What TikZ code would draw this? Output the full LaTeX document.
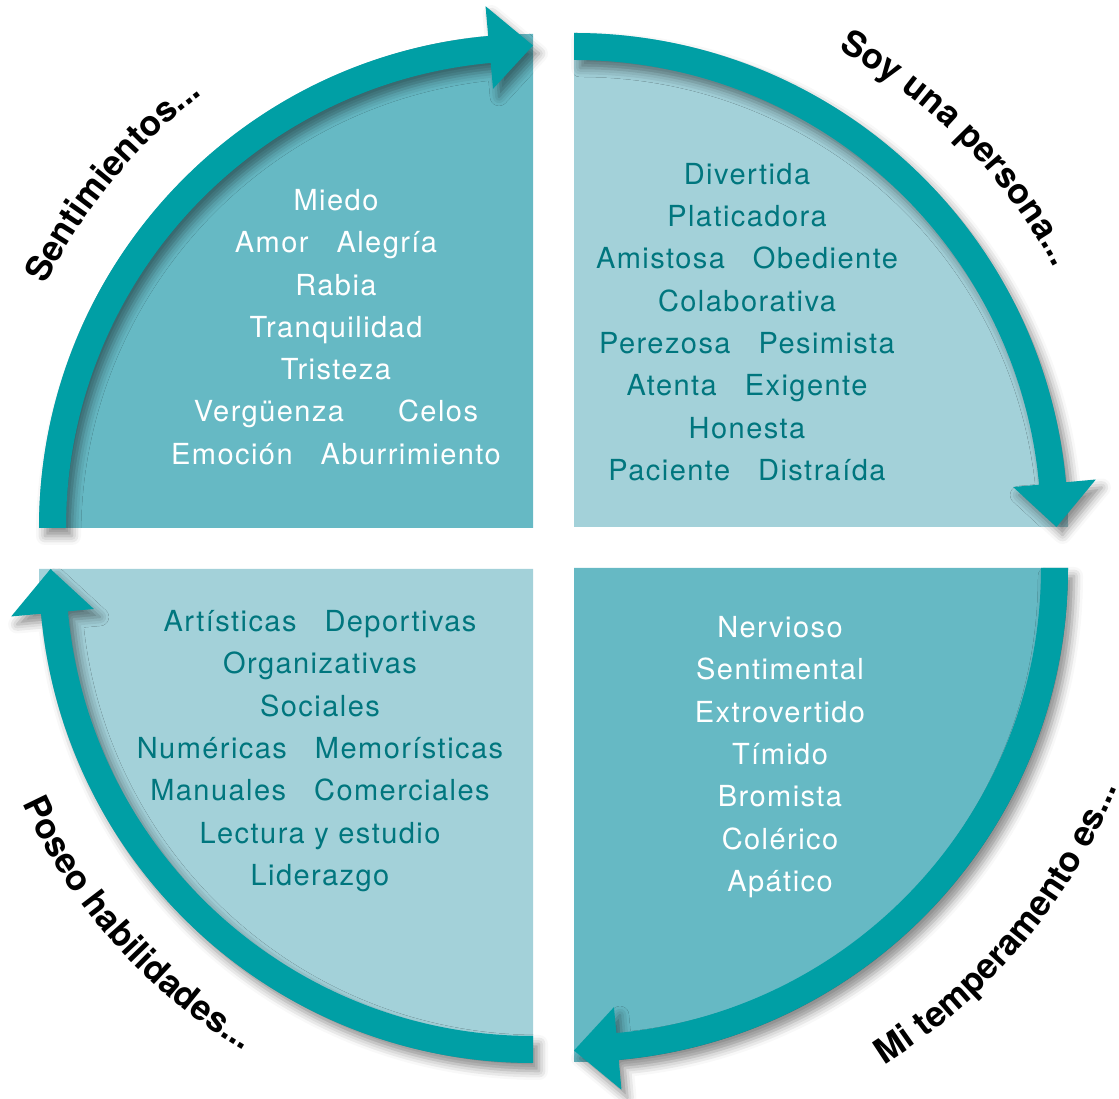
\documentclass[tikz,border=0pt]{standalone}
\usepackage{fontspec}
\setmainfont{TeX Gyre Heros}
\newfontfamily\listfamily[LetterSpace=5]{TeX Gyre Heros}
\usetikzlibrary{decorations.text, shadows.blur}
\definecolor{ringteal}{RGB}{0,159,165}
\definecolor{quaddark}{RGB}{102,185,196}
\definecolor{quadlight}{RGB}{163,209,217}
\definecolor{wordteal}{RGB}{0,118,126}
\tikzstyle{ringarrow} = [fill=ringteal, blur shadow={shadow xshift=6pt,
    shadow yshift=-8pt, shadow blur radius=9pt, shadow opacity=45}]
\tikzstyle{darkquad} = [fill=quaddark]
\tikzstyle{lightquad} = [fill=quadlight]
\tikzstyle{wordlist} = [align=center, inner sep=0pt,
    font=\listfamily\fontsize{29}{42.3}\selectfont]
\tikzstyle{wordsw} = [wordlist, text=white]
\tikzstyle{wordst} = [wordlist, text=wordteal]
\tikzstyle{ringlabel} = [decorate, decoration={text along path, text align=left}]
\newcommand{\labelfont}{\fontsize{35}{40}\selectfont\bfseries}
\newcommand{\wgap}{\hspace{28pt}}

\begin{document}
\begin{tikzpicture}[x=1pt, y=1pt]
            \useasboundingbox (0,0) rectangle (1119,1099);
            % Quadrants
            \fill[darkquad] (533,571) -- (39,571) arc[start angle=180, end angle=90, radius=494] -- cycle;
            \fill[lightquad] (574,572) -- (574,1066) arc[start angle=90, end angle=0, radius=494] -- cycle;
            \fill[darkquad] (574,531) -- (1068,531) arc[start angle=0, end angle=-90, radius=494] -- cycle;
            \fill[lightquad] (533,530) -- (533,36) arc[start angle=-90, end angle=-180, radius=494] -- cycle;
            % Ring arrows
            \fill[ringarrow] (39,571) arc[start angle=180, end angle=95.2, radius=494]
                -- ([shift={(533,571)}]95.2:524) -- ([shift={(533,571)}]90:482.5) -- ([shift={(533,571)}]95.2:441)
                -- ([shift={(533,571)}]95.2:467) arc[start angle=95.2, end angle=180, radius=467] -- cycle;
            \fill[ringarrow] (574,1066) arc[start angle=90, end angle=5.2, radius=494]
                -- ([shift={(574,572)}]5.2:524) -- ([shift={(574,572)}]0:482.5) -- ([shift={(574,572)}]5.2:441)
                -- ([shift={(574,572)}]5.2:467) arc[start angle=5.2, end angle=90, radius=467] -- cycle;
            \fill[ringarrow] (1068,531) arc[start angle=0, end angle=-84.8, radius=494]
                -- ([shift={(574,531)}]-84.8:524) -- ([shift={(574,531)}]-90:482.5) -- ([shift={(574,531)}]-84.8:441)
                -- ([shift={(574,531)}]-84.8:467) arc[start angle=-84.8, end angle=0, radius=467] -- cycle;
            \fill[ringarrow] (533,36) arc[start angle=-90, end angle=-174.8, radius=494]
                -- ([shift={(533,530)}]-174.8:524) -- ([shift={(533,530)}]-180:482.5) -- ([shift={(533,530)}]-174.8:441)
                -- ([shift={(533,530)}]-174.8:467) arc[start angle=-174.8, end angle=-90, radius=467] -- cycle;
            % Word lists
            \node[wordsw] (sentimientos) at (336,772) {Miedo\\Amor\wgap Alegría\\Rabia\\Tranquilidad\\Tristeza\\Vergüenza\hspace{54pt}Celos\\Emoción\wgap Aburrimiento};
            \node[wordst] (persona) at (747,777) {Divertida\\Platicadora\\Amistosa\wgap Obediente\\Colaborativa\\Perezosa\wgap Pesimista\\Atenta\wgap Exigente\\Honesta\\Paciente\wgap Distraída};
            \node[wordst] (habilidades) at (320,348) {Artísticas\wgap Deportivas\\Organizativas\\Sociales\\Numéricas\wgap Memorísticas\\Manuales\wgap Comerciales\\Lectura y estudio\\Liderazgo};
            \node[wordsw] (temperamento) at (780,342) {Nervioso\\Sentimental\\Extrovertido\\Tímido\\Bromista\\Colérico\\Apático};
            % Ring labels
            \path[ringlabel, decoration={text={|\labelfont|Sentimientos...}}]
                ([shift={(533,571)}]153.5:545) arc[start angle=153.5, end angle=115, radius=545];
            \path[ringlabel, decoration={text={|\labelfont|Soy una persona...}}]
                ([shift={(574,572)}]61:546) arc[start angle=61, end angle=15, radius=546];
            \path[ringlabel, decoration={text={|\labelfont|Mi temperamento es...}}]
                ([shift={(574,531)}]-58:586) arc[start angle=-58, end angle=-10, radius=586];
            \path[ringlabel, decoration={text={|\labelfont|Poseo habilidades...}}]
                ([shift={(533,530)}]204.7:562) arc[start angle=204.7, end angle=250, radius=562];
        \end{tikzpicture}
\end{document}
